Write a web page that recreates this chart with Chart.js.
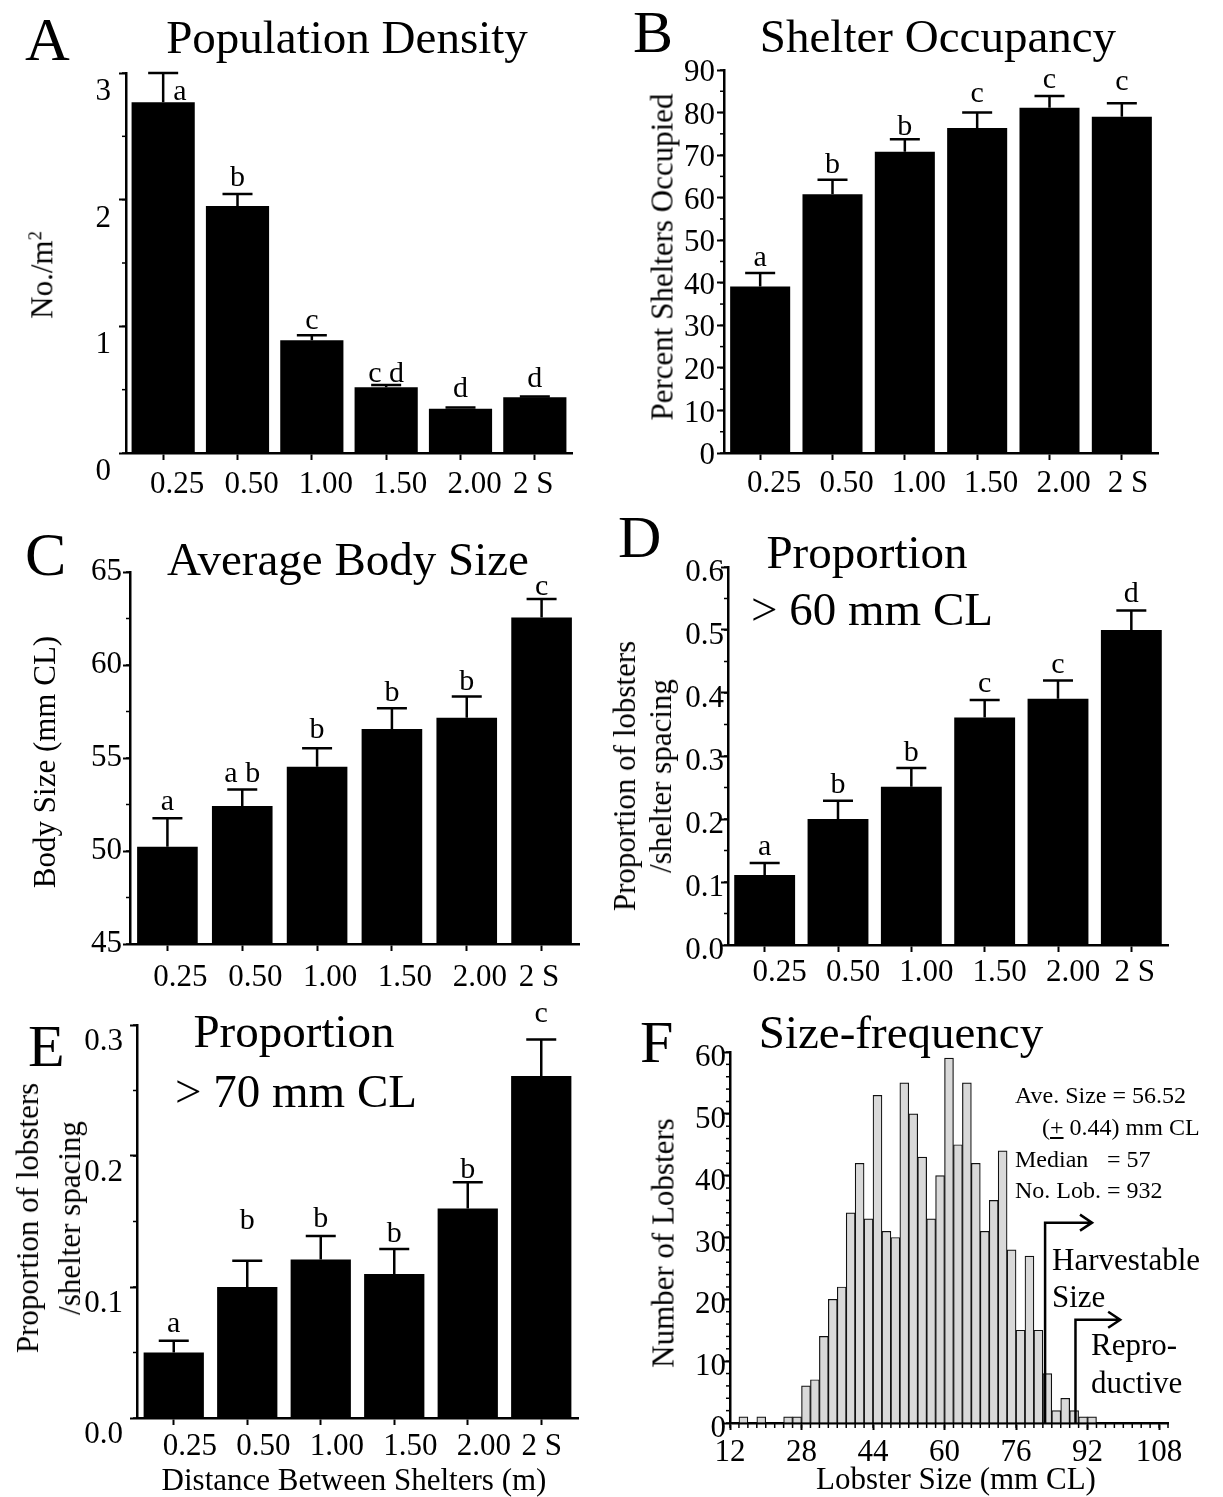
<!DOCTYPE html>
<html>
<head>
<meta charset="utf-8">
<script src="https://cdn.jsdelivr.net/npm/chart.js@4.4.1/dist/chart.umd.min.js"></script>
<style>
  body { margin: 0; background: #fff; }
  #fig { position: relative; width: 1223px; height: 1497px; overflow: hidden;
         font-family: "Liberation Serif", "Times New Roman", serif; color: #000; }
  #fig canvas { position: absolute; }
  .t { position: absolute; white-space: nowrap; line-height: 1; }
  .c { text-align: center; }
  .rot { position: absolute; white-space: nowrap; line-height: 1; text-align: center;
         transform: translate(-50%, -50%) rotate(-90deg); }
</style>
</head>
<body>
<div id="fig">
  <canvas id="chartA"></canvas>
  <canvas id="chartB"></canvas>
  <canvas id="chartC"></canvas>
  <canvas id="chartD"></canvas>
  <canvas id="chartE"></canvas>
  <canvas id="chartF"></canvas>

  <!-- panel letters and titles -->
  <div class="t" style="left:25px;top:8px;font-size:62px">A</div>
  <div class="t c" style="left:47px;top:14px;width:600px;font-size:47px">Population Density</div>
  <div class="t" style="left:633px;top:2px;font-size:60px">B</div>
  <div class="t c" style="left:638px;top:13px;width:600px;font-size:47px">Shelter Occupancy</div>
  <div class="t" style="left:25px;top:523px;font-size:62px">C</div>
  <div class="t c" style="left:48px;top:536px;width:600px;font-size:47px">Average Body Size</div>
  <div class="t" style="left:618px;top:507px;font-size:60px">D</div>
  <div class="t c" style="left:567px;top:529px;width:600px;font-size:47px">Proportion</div>
  <div class="t c" style="left:572px;top:586px;width:600px;font-size:47px">&gt; 60 mm CL</div>
  <div class="t" style="left:28px;top:1016px;font-size:60px">E</div>
  <div class="t c" style="left:-6px;top:1008px;width:600px;font-size:47px">Proportion</div>
  <div class="t c" style="left:-4px;top:1068px;width:600px;font-size:47px">&gt; 70 mm CL</div>
  <div class="t" style="left:640px;top:1012px;font-size:60px">F</div>
  <div class="t c" style="left:601px;top:1009px;width:600px;font-size:47px">Size-frequency</div>

  <!-- axis titles -->
  <div class="rot" style="left:42px;top:275px;font-size:31px">No./m<sup style="font-size:0.6em">2</sup></div>
  <div class="rot" style="left:662px;top:257px;font-size:31px">Percent Shelters Occupied</div>
  <div class="rot" style="left:44px;top:762px;font-size:31px">Body Size (mm CL)</div>
  <div class="rot" style="left:643px;top:776px;font-size:31px;line-height:36px">Proportion of lobsters<br>/shelter spacing</div>
  <div class="rot" style="left:49px;top:1218px;font-size:31px;line-height:42px">Proportion of lobsters<br>/shelter spacing</div>
  <div class="rot" style="left:663px;top:1243px;font-size:31px">Number of Lobsters</div>
  <div class="t c" style="left:54px;top:1464px;width:600px;font-size:31px">Distance Between Shelters (m)</div>
  <div class="t c" style="left:756px;top:1463px;width:400px;font-size:31px">Lobster Size (mm CL)</div>

  <!-- histogram notes -->
  <div class="t" style="left:1015px;top:1083px;font-size:24px">Ave. Size = 56.52</div>
  <div class="t" style="left:1042px;top:1115px;font-size:24px">(<u>+</u> 0.44) mm CL</div>
  <div class="t" style="left:1015px;top:1147px;font-size:24px">Median</div>
  <div class="t" style="left:1107px;top:1147px;font-size:24px">= 57</div>
  <div class="t" style="left:1015px;top:1178px;font-size:24px">No. Lob.</div>
  <div class="t" style="left:1107px;top:1178px;font-size:24px">= 932</div>
  <div class="t" style="left:1052px;top:1244px;font-size:31px">Harvestable</div>
  <div class="t" style="left:1052px;top:1281px;font-size:31px">Size</div>
  <div class="t" style="left:1091px;top:1329px;font-size:31px">Repro-</div>
  <div class="t" style="left:1091px;top:1367px;font-size:31px">ductive</div>
</div>

<script>
// ---- data ----
const distanceLabels = ['0.25', '0.50', '1.00', '1.50', '2.00', '2 S'];

// A  population density (No./m2)
const densityMean = [2.77, 1.95, 0.89, 0.52, 0.35, 0.44];
const densitySE = [0.23, 0.095, 0.04, 0.017, 0.01, 0.007];
const densityGroups = ['a', 'b', 'c', 'c d', 'd', 'd'];
const densityTicks = [0, 1, 2, 3];

// B  shelter occupancy (%)
const occupancyMean = [39.1, 60.8, 70.8, 76.4, 81.1, 79.0];
const occupancySE = [3.2, 3.4, 2.9, 3.6, 2.8, 3.2];
const occupancyGroups = ['a', 'b', 'b', 'c', 'c', 'c'];
const occupancyTicks = [0, 10, 20, 30, 40, 50, 60, 70, 80, 90];

// C  average body size (mm CL)
const bodySizeMean = [50.23, 52.42, 54.53, 56.56, 57.17, 62.55];
const bodySizeSE = [1.53, 0.88, 0.99, 1.11, 1.13, 1.0];
const bodySizeGroups = ['a', 'a b', 'b', 'b', 'b', 'c'];
const bodySizeTicks = [45, 50, 55, 60, 65];

// D  proportion > 60 mm CL
const prop60Mean = [0.111, 0.200, 0.251, 0.361, 0.391, 0.500];
const prop60SE = [0.019, 0.029, 0.030, 0.028, 0.029, 0.031];
const prop60Groups = ['a', 'b', 'b', 'c', 'c', 'd'];
const prop60Ticks = [0, 0.1, 0.2, 0.3, 0.4, 0.5, 0.6];
const prop60TickLabels = ['0.0', '0.1', '0.2', '0.3', '0.4', '0.5', '0.6'];

// E  proportion > 70 mm CL
const prop70Mean = [0.050, 0.100, 0.121, 0.110, 0.160, 0.261];
const prop70SE = [0.009, 0.020, 0.018, 0.019, 0.020, 0.028];
const prop70Groups = ['a', 'b', 'b', 'b', 'b', 'c'];
const prop70Ticks = [0, 0.1, 0.2, 0.3];
const prop70TickLabels = ['0.0', '0.1', '0.2', '0.3'];

// F  size-frequency, 2 mm bins (bin start, mm CL)
const sizeBinStart = [12, 14, 16, 18, 20, 22, 24, 26, 28, 30, 32, 34, 36, 38, 40, 42, 44, 46, 48, 50,
  52, 54, 56, 58, 60, 62, 64, 66, 68, 70, 72, 74, 76, 78, 80, 82, 84, 86, 88, 90,
  92, 94, 96, 98, 100, 102, 104, 106, 108];
const sizeCounts = [0, 1, 0, 1, 0, 0, 1, 1, 6, 7, 14, 20, 22, 34, 42, 33, 53, 31, 30, 55,
  50, 43, 33, 40, 59, 45, 55, 42, 31, 36, 44, 28, 15, 27, 15, 8, 2, 4, 2, 1,
  1, 0, 0, 0, 0, 0, 0, 0, 0];
const binWidth = 2;
const sizeTicks = [12, 28, 44, 60, 76, 92, 108];
const countTicks = [0, 10, 20, 30, 40, 50, 60];
const harvestSize = 82.5;
const reproSize = 89.3;

// ---- drawing ----
Chart.defaults.font.family = '"Liberation Serif", "Times New Roman", serif';
Chart.defaults.font.size = 31;
Chart.defaults.color = '#000';

const PL = 110, PT = 30, PR = 14, PB = 52;

const minorTicks = {
  id: 'minorTicks',
  afterDraw(chart, args, opts) {
    const ctx = chart.ctx, a = chart.chartArea;
    ctx.save();
    ctx.strokeStyle = '#000';
    ctx.lineWidth = 1.5;
    if (opts.y) {
      const s = chart.scales.y;
      for (let v = s.min; v <= s.max + 1e-9; v += opts.y) {
        const p = s.getPixelForValue(v);
        ctx.beginPath(); ctx.moveTo(a.left - 4, p); ctx.lineTo(a.left, p); ctx.stroke();
      }
    }
    if (opts.x) {
      const s = chart.scales.x;
      for (let v = s.min; v <= s.max + 1e-9; v += opts.x) {
        const p = s.getPixelForValue(v);
        ctx.beginPath(); ctx.moveTo(p, a.bottom); ctx.lineTo(p, a.bottom + 5); ctx.stroke();
      }
    }
    ctx.restore();
  }
};

const errorBars = {
  id: 'errorBars',
  afterDatasetsDraw(chart) {
    const ds = chart.data.datasets[0];
    if (!ds.se) return;
    const meta = chart.getDatasetMeta(0), y = chart.scales.y, ctx = chart.ctx;
    ctx.save();
    ctx.strokeStyle = '#000';
    ctx.fillStyle = '#000';
    ctx.lineWidth = 2.5;
    ctx.font = '30px "Liberation Serif"';
    meta.data.forEach((bar, i) => {
      const top = y.getPixelForValue(ds.data[i] + ds.se[i]);
      ctx.beginPath();
      ctx.moveTo(bar.x, bar.y); ctx.lineTo(bar.x, top);
      ctx.moveTo(bar.x - 15, top); ctx.lineTo(bar.x + 15, top);
      ctx.stroke();
      if (ds.side && ds.side[i]) {
        ctx.textAlign = 'left';
        ctx.fillText(ds.groups[i], bar.x + 10, bar.y - 2);
      } else {
        ctx.textAlign = 'center';
        ctx.fillText(ds.groups[i], bar.x, top - 7 - (ds.lift ? ds.lift[i] : 0));
      }
    });
    ctx.restore();
  }
};

const sizeArrows = {
  id: 'sizeArrows',
  afterDatasetsDraw(chart, args, opts) {
    if (!opts.marks) return;
    const x = chart.scales.x, y = chart.scales.y, ctx = chart.ctx;
    ctx.save();
    ctx.strokeStyle = '#000';
    ctx.lineWidth = 2.5;
    opts.marks.forEach(m => {
      const x0 = x.getPixelForValue(m.at), x1 = x.getPixelForValue(m.to);
      const y0 = y.getPixelForValue(0), y1 = y.getPixelForValue(m.up);
      ctx.beginPath();
      ctx.moveTo(x0, y0); ctx.lineTo(x0, y1); ctx.lineTo(x1, y1);
      ctx.moveTo(x1 - 12, y1 - 8); ctx.lineTo(x1, y1); ctx.lineTo(x1 - 12, y1 + 8);
      ctx.stroke();
    });
    ctx.restore();
  }
};

Chart.register(minorTicks, errorBars, sizeArrows);

function place(id, box) {
  const cv = document.getElementById(id);
  cv.width = box.r - box.l + PL + PR;
  cv.height = box.b - box.t + PT + PB;
  cv.style.left = (box.l - PL) + 'px';
  cv.style.top = (box.t - PT) + 'px';
  return cv;
}

const axisGrid = { display: true, drawOnChartArea: false, drawTicks: true, tickLength: 7,
                   tickWidth: 2, tickColor: '#000', offset: false };
const axisBorder = { display: true, color: '#000', width: 2.5 };

function barPanel(id, box, p) {
  const cv = place(id, box);
  const pad = '\u00a0'.repeat(p.sPad);
  return new Chart(cv, {
    type: 'bar',
    data: {
      labels: distanceLabels,
      datasets: [{
        data: p.mean, se: p.se, groups: p.groups, lift: p.lift, side: p.side,
        backgroundColor: '#000', borderWidth: 0,
        barPercentage: p.barPct, categoryPercentage: 1
      }]
    },
    options: {
      responsive: false, animation: false, devicePixelRatio: 1,
      layout: { padding: { left: 0, top: PT, right: PR, bottom: 0 } },
      plugins: { legend: { display: false }, tooltip: { enabled: false }, minorTicks: { y: p.minor } },
      scales: {
        x: {
          offset: true, z: 1, grid: axisGrid, border: axisBorder,
          ticks: {
            padding: p.xPad, labelOffset: p.xOff, autoSkip: false, maxRotation: 0,
            callback: function (v) {
              const t = this.getLabelForValue(v);
              return t === '2 S' ? t + pad : t;
            }
          },
          afterFit: s => { s.height = PB; s.paddingLeft = 0; s.paddingRight = 0; }
        },
        y: {
          min: p.ticks[0], max: p.ticks[p.ticks.length - 1], z: 1,
          grid: axisGrid, border: axisBorder,
          ticks: { padding: p.yPad, labelOffset: p.yOff, callback: (v, i) => p.tickLabels[i] },
          afterBuildTicks: s => { s.ticks = p.ticks.map(v => ({ value: v })); },
          afterFit: s => { s.width = PL; s.paddingTop = 0; s.paddingBottom = 0; }
        }
      }
    }
  });
}

barPanel('chartA', { l: 126, r: 572, t: 73, b: 453 }, {
  mean: densityMean, se: densitySE, groups: densityGroups,
  ticks: densityTicks, tickLabels: densityTicks.map(String),
  lift: [0, 1, -1, -4, 3, 2], side: [true, false, false, false, false, false],
  minor: 0.5, barPct: 0.85, xPad: 6, xOff: 14, sPad: 4, yPad: 8, yOff: 19
});

barPanel('chartB', { l: 724, r: 1158, t: 70, b: 453 }, {
  mean: occupancyMean, se: occupancySE, groups: occupancyGroups,
  ticks: occupancyTicks, tickLabels: occupancyTicks.map(String),
  lift: [0, 0, -3, 4, 1, 6],
  minor: 5, barPct: 0.83, xPad: 5, xOff: 14, sPad: 2, yPad: 2, yOff: 3
});

barPanel('chartC', { l: 130, r: 579, t: 572, b: 944 }, {
  mean: bodySizeMean, se: bodySizeSE, groups: bodySizeGroups,
  ticks: bodySizeTicks, tickLabels: bodySizeTicks.map(String),
  lift: [1, 1, 3, 0, 0, -3],
  minor: 2.5, barPct: 0.81, xPad: 8, xOff: 13, sPad: 4, yPad: 1, yOff: 0
});

barPanel('chartD', { l: 728, r: 1168, t: 567, b: 945 }, {
  mean: prop60Mean, se: prop60SE, groups: prop60Groups,
  ticks: prop60Ticks, tickLabels: prop60TickLabels,
  lift: [1, 1, 0, 1, 0, 1],
  minor: 0.05, barPct: 0.83, xPad: 2, xOff: 15, sPad: 3, yPad: -3, yOff: 6
});

barPanel('chartE', { l: 137, r: 578, t: 1025, b: 1418 }, {
  mean: prop70Mean, se: prop70SE, groups: prop70Groups,
  ticks: prop70Ticks, tickLabels: prop70TickLabels,
  lift: [2, 25, 2, 0, -3, 10],
  minor: 0.05, barPct: 0.82, xPad: 3, xOff: 16, sPad: 4, yPad: 7, yOff: 17
});

// F histogram
const cvF = place('chartF', { l: 730, r: 1168, t: 1052, b: 1423 });
new Chart(cvF, {
  type: 'bar',
  data: {
    datasets: [{
      data: sizeBinStart.map((s, i) => ({ x: s + binWidth / 2, y: sizeCounts[i] })),
      backgroundColor: '#d9d9d9', borderColor: '#111', borderWidth: 1.2,
      barPercentage: 1, categoryPercentage: 1
    }]
  },
  options: {
    responsive: false, animation: false, devicePixelRatio: 1,
    layout: { padding: { left: 0, top: PT, right: PR, bottom: 0 } },
    plugins: {
      legend: { display: false }, tooltip: { enabled: false },
      minorTicks: { x: 2, y: 2 },
      sizeArrows: { marks: [
        { at: harvestSize, up: 32.4, to: 93 },
        { at: reproSize, up: 16.7, to: 99.3 }
      ] }
    },
    scales: {
      x: {
        type: 'linear', min: 12, max: 110, offset: false, z: 1,
        grid: axisGrid, border: axisBorder,
        ticks: { padding: 4, autoSkip: false, maxRotation: 0, callback: (v, i) => String(sizeTicks[i]) },
        afterBuildTicks: s => { s.ticks = sizeTicks.map(v => ({ value: v })); },
        afterFit: s => { s.height = PB; s.paddingLeft = 0; s.paddingRight = 0; }
      },
      y: {
        min: 0, max: 60, z: 1, grid: axisGrid, border: axisBorder,
        ticks: { padding: -3, labelOffset: 6, callback: (v, i) => String(countTicks[i]) },
        afterBuildTicks: s => { s.ticks = countTicks.map(v => ({ value: v })); },
        afterFit: s => { s.width = PL; s.paddingTop = 0; s.paddingBottom = 0; }
      }
    }
  }
});
</script>
</body>
</html>
